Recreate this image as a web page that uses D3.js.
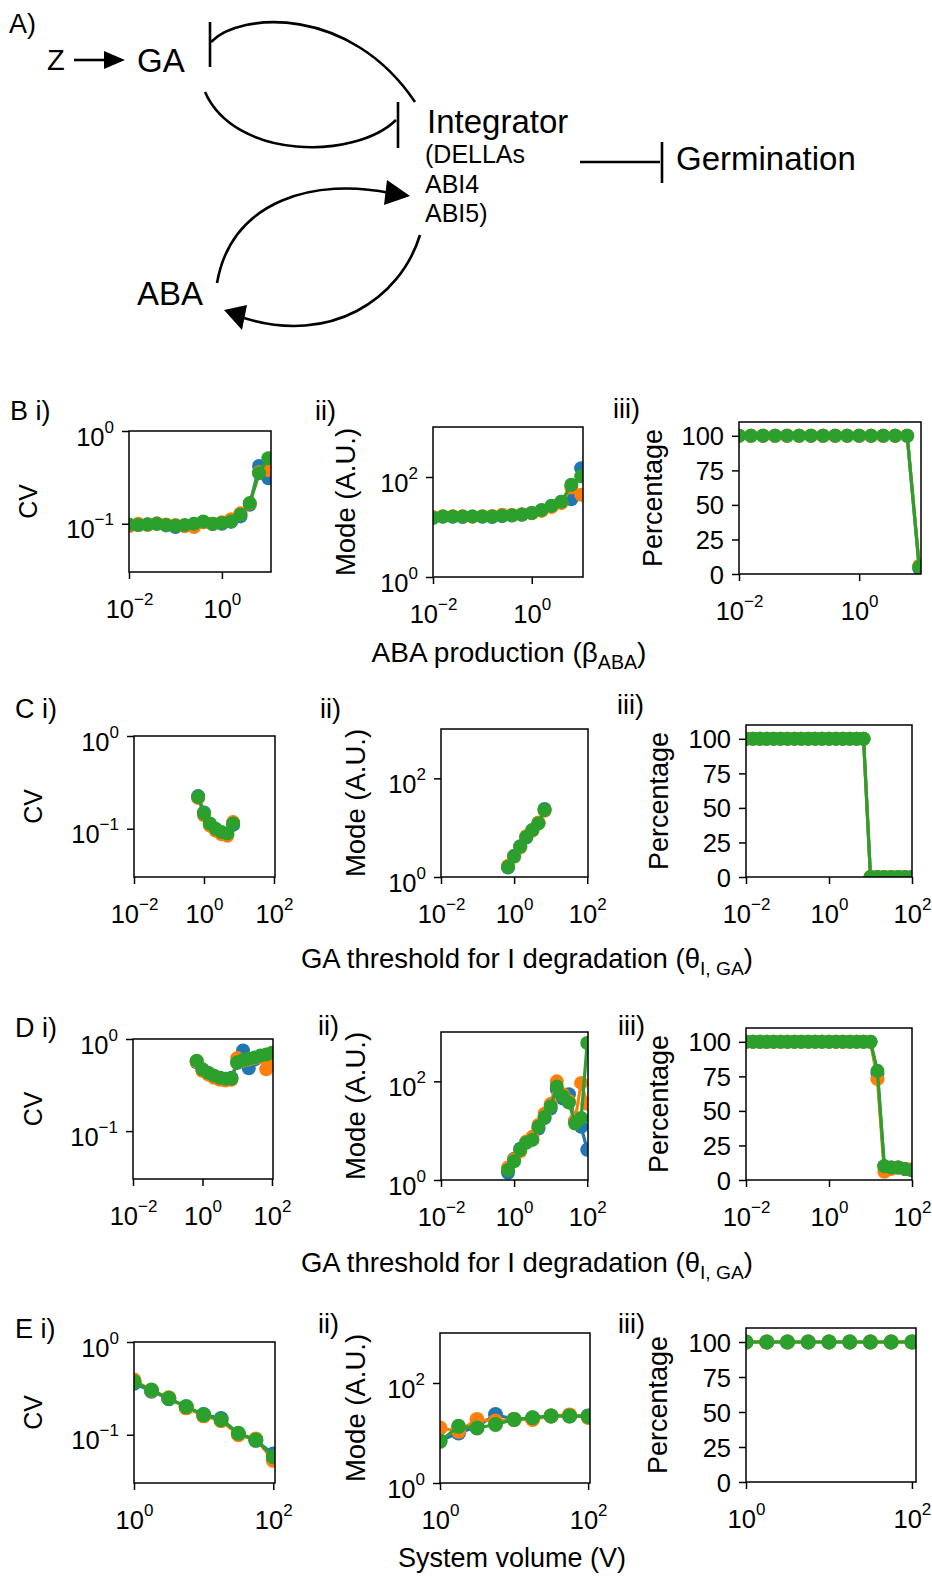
<!DOCTYPE html>
<html>
<head>
<meta charset="utf-8">
<script src="https://cdn.jsdelivr.net/npm/d3@7"></script>
<style>
  body { margin: 0; background: #fff; }
  svg { display: block; font-family: "Liberation Sans", Arial, sans-serif; }
</style>
</head>
<body>
<div id="fig"></div>
<script>
// x grids of the parameter sweeps
var xB = [0.01, 0.0158, 0.0251, 0.0398, 0.0631, 0.1, 0.158, 0.251, 0.398, 0.631, 1, 1.58, 2.51, 3.98, 6.31, 10];
var xCD = [0.01, 0.0147, 0.0215, 0.0316, 0.0464, 0.0681, 0.1, 0.147, 0.215, 0.316, 0.464, 0.681, 1,
           1.47, 2.15, 3.16, 4.64, 6.81, 10, 14.7, 21.5, 31.6, 46.4, 68.1, 100];
var xE = [1, 1.78, 3.16, 5.62, 10, 17.8, 31.6, 56.2, 100];

// B: ABA production
var bCvBlue   = [0.096, 0.097, 0.099, 0.1, 0.096, 0.092, 0.095, 0.099, 0.104, 0.099, 0.1, 0.105, 0.12, 0.16, 0.42, 0.31];
var bCvOrange = [0.094, 0.1, 0.097, 0.101, 0.098, 0.097, 0.094, 0.092, 0.104, 0.1, 0.104, 0.112, 0.13, 0.165, 0.36, 0.38];
var bCvGreen  = [0.098, 0.097, 0.098, 0.1, 0.097, 0.095, 0.097, 0.1, 0.106, 0.1, 0.102, 0.106, 0.125, 0.167, 0.35, 0.51];
var bModeBlue   = [15.5, 16, 16, 15.8, 16.3, 16, 15.8, 16.5, 17, 17.5, 19, 21.5, 26, 32, 36, 150];
var bModeOrange = [15.8, 16.5, 16.5, 16.5, 16, 16.5, 16.6, 17.5, 17.4, 18, 18.8, 21, 25, 30, 62, 44];
var bModeGreen  = [15.1, 16.3, 16.3, 16.3, 16.3, 16.3, 16.3, 16.8, 17.2, 17.8, 19.1, 22, 26.6, 32, 70, 103];
var bPctBlue   = [100, 100, 100, 100, 100, 100, 100, 100, 100, 100, 100, 100, 100, 100, 100, 4];
var bPctOrange = [100, 100, 100, 100, 100, 100, 100, 100, 100, 100, 100, 100, 100, 100, 100, 6];
var bPctGreen  = [100, 100, 100, 100, 100, 100, 100, 100, 100, 100, 100, 100, 100, 100, 100, 5];

// C: GA threshold (CV and mode only defined for xCD[11..17])
var cCvBlue   = [0.225, 0.15, 0.112, 0.098, 0.09, 0.088, 0.11];
var cCvOrange = [0.215, 0.14, 0.108, 0.095, 0.087, 0.084, 0.118];
var cCvGreen  = [0.22, 0.146, 0.114, 0.1, 0.092, 0.089, 0.114];
var cModeBlue   = [1.55, 2.7, 4.2, 6.3, 9, 12.5, 24];
var cModeOrange = [1.7, 2.6, 4.0, 6.7, 8.7, 12.8, 22];
var cModeGreen  = [1.6, 2.6, 4.1, 6.5, 8.9, 12.2, 22.7];
var cPctBlue   = [100, 100, 100, 100, 100, 100, 100, 100, 100, 100, 100, 100, 100, 100, 100, 100, 100, 100, 0, 0, 0, 0, 0, 0, 0];
var cPctOrange = [100, 100, 100, 100, 100, 100, 100, 100, 100, 100, 100, 100, 100, 100, 100, 100, 100, 100, 0, 0, 0, 0, 0, 0, 0];
var cPctGreen  = [100, 100, 100, 100, 100, 100, 100, 100, 100, 100, 100, 100, 100, 100, 100, 100, 100, 100, 0, 0, 0, 0, 0, 0, 0];

// D: GA threshold, second model (CV and mode for xCD[11..24])
var dCvBlue   = [0.56, 0.46, 0.42, 0.39, 0.38, 0.37, 0.38, 0.55, 0.75, 0.48, 0.6, 0.64, 0.66, 0.7];
var dCvOrange = [0.57, 0.45, 0.41, 0.38, 0.36, 0.355, 0.36, 0.62, 0.58, 0.6, 0.62, 0.64, 0.47, 0.6];
var dCvGreen  = [0.58, 0.47, 0.43, 0.4, 0.38, 0.37, 0.37, 0.56, 0.59, 0.61, 0.63, 0.66, 0.68, 0.71];
var dModeBlue   = [1.4, 2.7, 4.3, 5.9, 6.8, 11, 18, 28, 70, 45, 55, 16, 12, 4.1];
var dModeOrange = [1.8, 2.6, 3.8, 6, 7.5, 13, 22, 35, 100, 55, 40, 16, 93, 35];
var dModeGreen  = [1.6, 2.4, 4.1, 5.7, 6.5, 12, 19, 31, 79, 50, 37, 14, 18, 600];
var dPctBlue   = [100, 100, 100, 100, 100, 100, 100, 100, 100, 100, 100, 100, 100, 100, 100, 100, 100, 100, 100, 77, 10, 9, 9, 8, 7];
var dPctOrange = [100, 100, 100, 100, 100, 100, 100, 100, 100, 100, 100, 100, 100, 100, 100, 100, 100, 100, 100, 73, 6, 8, 9, 8, 8];
var dPctGreen  = [100, 100, 100, 100, 100, 100, 100, 100, 100, 100, 100, 100, 100, 100, 100, 100, 100, 100, 100, 79, 10, 9, 9, 8, 7];

// E: system volume
var eCvBlue   = [0.36, 0.295, 0.245, 0.2, 0.165, 0.15, 0.102, 0.087, 0.062];
var eCvOrange = [0.39, 0.3, 0.25, 0.195, 0.16, 0.142, 0.1, 0.09, 0.053];
var eCvGreen  = [0.372, 0.303, 0.247, 0.201, 0.164, 0.145, 0.104, 0.088, 0.058];
var eModeBlue   = [7, 10, 13.5, 23.5, 18.7, 20, 22, 22, 22];
var eModeOrange = [12.6, 10.8, 18.7, 17.3, 18.7, 18.7, 22, 23, 20.5];
var eModeGreen  = [6.8, 13.6, 12.6, 14.8, 18.7, 20.2, 21.9, 21.9, 21.5];
var ePctBlue   = [100, 100, 100, 100, 100, 100, 100, 100, 100];
var ePctOrange = [100, 100, 100, 100, 100, 100, 100, 100, 100];
var ePctGreen  = [100, 100, 100, 100, 100, 100, 100, 100, 100];

var colors = ["#1f77b4", "#ff7f0e", "#2ca02c"];

var svg = d3.select("#fig").append("svg")
  .attr("width", 932)
  .attr("height", 1578);
svg.append("rect").attr("width", 932).attr("height", 1578).attr("fill", "#fff");
var defs = svg.append("defs");

// ---------- panel A : network diagram ----------
var diag = svg.append("g").attr("fill", "none").attr("stroke", "#000").attr("stroke-width", 2.6);

function label(x, y, txt, size) {
  svg.append("text").attr("x", x).attr("y", y).attr("font-size", size).text(txt);
}
label(9, 33, "A)", 27);
label(47, 70, "Z", 29);
label(137, 72, "GA", 33);
label(427, 133, "Integrator", 33);
label(425, 163, "(DELLAs", 25);
label(425, 193, "ABI4", 25);
label(425, 222, "ABI5)", 25);
label(676, 170, "Germination", 33);
label(137, 305, "ABA", 33);

// Z -> GA
diag.append("line").attr("x1", 74).attr("y1", 60).attr("x2", 106).attr("y2", 60);
svg.append("path").attr("d", "M104,51 L125,60 L104,69 Z").attr("fill", "#000");
// Integrator -| GA
diag.append("path").attr("d", "M211,42 C240,12 350,5 415,102");
diag.append("line").attr("x1", 210).attr("y1", 22).attr("x2", 210).attr("y2", 67);
// GA -| Integrator
diag.append("path").attr("d", "M205,92 C235,160 355,160 396,120");
diag.append("line").attr("x1", 398).attr("y1", 102).attr("x2", 398).attr("y2", 148);
// Integrator -| Germination
diag.append("line").attr("x1", 580).attr("y1", 162).attr("x2", 660).attr("y2", 162);
diag.append("line").attr("x1", 662).attr("y1", 142).attr("x2", 662).attr("y2", 183);
// ABA -> Integrator
diag.append("path").attr("d", "M217,283 C232,198 318,178 390,193");
svg.append("path").attr("d", "M387,180 L410,196 L384,205 Z").attr("fill", "#000");
// Integrator -> ABA
diag.append("path").attr("d", "M420,235 C400,300 330,345 244,318");
svg.append("path").attr("d", "M224,310 L247,305 L242,330 Z").attr("fill", "#000");

// ---------- panels B-E ----------
var yKinds = {
  cv:   { log: true,  domain: [0.0302, 1], ticks: [0.1, 1],             title: "CV",          tsize: 25 },
  mode: { log: true,  domain: [1, 1000],   ticks: [1, 100],             title: "Mode (A.U.)", tsize: 27.5 },
  pct:  { log: false, domain: [0, 110],    ticks: [0, 25, 50, 75, 100], title: "Percentage",  tsize: 27 }
};

var panels = [
  { id: "bi",   box: [129, 431, 271, 572],  xd: [0.01, 11.4], xt: [0.01, 1], kind: "cv",   xs: xB, ys: [bCvBlue, bCvOrange, bCvGreen], labX: 37, tag: "B i)", tagPos: [10, 420] },
  { id: "bii",  box: [433, 427, 583, 577],  xd: [0.01, 10.9], xt: [0.01, 1], kind: "mode", xs: xB, ys: [bModeBlue, bModeOrange, bModeGreen], labX: 355, tag: "ii)", tagPos: [315, 420] },
  { id: "biii", box: [739, 422, 921, 574],  xd: [0.01, 10.7], xt: [0.01, 1], kind: "pct",  xs: xB, ys: [bPctBlue, bPctOrange, bPctGreen], labX: 662, tag: "iii)", tagPos: [613, 418] },

  { id: "ci",   box: [134, 736, 275, 877],  xd: [0.01, 107], xt: [0.01, 1, 100], kind: "cv",   xs: xCD.slice(11, 18), ys: [cCvBlue, cCvOrange, cCvGreen], labX: 42, tag: "C i)", tagPos: [15, 718] },
  { id: "cii",  box: [441, 729, 588, 877],  xd: [0.01, 105], xt: [0.01, 1, 100], kind: "mode", xs: xCD.slice(11, 18), ys: [cModeBlue, cModeOrange, cModeGreen], labX: 365, tag: "ii)", tagPos: [320, 718] },
  { id: "ciii", box: [746, 725, 912, 877],  xd: [0.01, 100], xt: [0.01, 1, 100], kind: "pct",  xs: xCD, ys: [cPctBlue, cPctOrange, cPctGreen], labX: 668, tag: "iii)", tagPos: [617, 714] },

  { id: "di",   box: [133, 1039, 273, 1179], xd: [0.01, 107], xt: [0.01, 1, 100], kind: "cv",   xs: xCD.slice(11), ys: [dCvBlue, dCvOrange, dCvGreen], labX: 42, tag: "D i)", tagPos: [15, 1037] },
  { id: "dii",  box: [441, 1032, 588, 1180], xd: [0.01, 105], xt: [0.01, 1, 100], kind: "mode", xs: xCD.slice(11), ys: [dModeBlue, dModeOrange, dModeGreen], labX: 365, tag: "ii)", tagPos: [318, 1035] },
  { id: "diii", box: [746, 1028, 912, 1180], xd: [0.01, 100], xt: [0.01, 1, 100], kind: "pct",  xs: xCD, ys: [dPctBlue, dPctOrange, dPctGreen], labX: 668, tag: "iii)", tagPos: [618, 1035] },

  { id: "ei",   box: [134, 1342, 275, 1483], xd: [1, 106], xt: [1, 100], kind: "cv",   xs: xE, ys: [eCvBlue, eCvOrange, eCvGreen], labX: 42, tag: "E i)", tagPos: [15, 1338], r: 7.5 },
  { id: "eii",  box: [440, 1333, 590, 1483], xd: [1, 106], xt: [1, 100], kind: "mode", xs: xE, ys: [eModeBlue, eModeOrange, eModeGreen], labX: 365, tag: "ii)", tagPos: [318, 1333], r: 7.5 },
  { id: "eiii", box: [746, 1328, 916, 1482], xd: [1, 112], xt: [1, 100], kind: "pct",  xs: xE, ys: [ePctBlue, ePctOrange, ePctGreen], labX: 667, tag: "iii)", tagPos: [618, 1333], r: 7.5 }
];

function powLabel(sel) {
  sel.each(function(d) {
    var e = Math.round(Math.log10(d));
    var t = d3.select(this).text("");
    t.append("tspan").text("10");
    t.append("tspan").attr("dy", -13).attr("font-size", 17).text(e < 0 ? "\u2212" + (-e) : e);
  });
}

function drawPanel(p) {
  var k = yKinds[p.kind];
  var x0 = p.box[0], y0 = p.box[1], x1 = p.box[2], y1 = p.box[3];
  var tf = p.tickFont || 25.5;
  var r = p.r || 7;

  var x = d3.scaleLog().domain(p.xd).range([x0, x1]);
  var y = (k.log ? d3.scaleLog() : d3.scaleLinear()).domain(k.domain).range([y1, y0]);

  defs.append("clipPath").attr("id", "clip-" + p.id)
    .append("rect").attr("x", x0).attr("y", y0).attr("width", x1 - x0).attr("height", y1 - y0);

  var plot = svg.append("g").attr("clip-path", "url(#clip-" + p.id + ")");
  var line = d3.line().x(d => x(d[0])).y(d => y(d[1]));

  p.ys.forEach(function(vals, i) {
    var pts = p.xs.map((v, j) => [v, vals[j]]);
    plot.append("path")
      .datum(pts)
      .attr("d", line)
      .attr("fill", "none")
      .attr("stroke", colors[i])
      .attr("stroke-width", 3.2);
    plot.selectAll(null)
      .data(pts)
      .enter()
      .append("circle")
      .attr("cx", d => x(d[0]))
      .attr("cy", d => y(d[1]))
      .attr("r", r)
      .attr("fill", colors[i]);
  });

  // axes
  var xAxis = svg.append("g")
    .attr("transform", `translate(0, ${y1})`)
    .call(d3.axisBottom(x).tickValues(p.xt).tickSize(7).tickSizeOuter(0));
  xAxis.select(".domain").remove();
  xAxis.selectAll(".tick line").attr("stroke-width", 1.5);
  xAxis.selectAll(".tick text")
    .attr("y", 46).attr("dy", null)
    .attr("font-size", tf).attr("font-family", null).attr("fill", "#000")
    .call(powLabel);

  var yAxis = svg.append("g")
    .attr("transform", `translate(${x0}, 0)`)
    .call(d3.axisLeft(y).tickValues(k.ticks).tickSize(7).tickSizeOuter(0));
  yAxis.select(".domain").remove();
  yAxis.selectAll(".tick line").attr("stroke-width", 1.5);
  var yt = yAxis.selectAll(".tick text")
    .attr("x", -15).attr("dy", null)
    .attr("font-size", tf).attr("font-family", null).attr("fill", "#000");
  if (k.log) {
    yt.attr("y", 14).call(powLabel);
  } else {
    yt.attr("y", 9);
  }

  // frame
  svg.append("rect")
    .attr("x", x0).attr("y", y0)
    .attr("width", x1 - x0).attr("height", y1 - y0)
    .attr("fill", "none").attr("stroke", "#000").attr("stroke-width", 1.5);

  // y title
  svg.append("text")
    .attr("transform", `translate(${p.labX}, ${(y0 + y1) / 2}) rotate(-90)`)
    .attr("text-anchor", "middle")
    .attr("font-size", k.tsize)
    .text(k.title);

  // panel tag
  svg.append("text")
    .attr("x", p.tagPos[0]).attr("y", p.tagPos[1])
    .attr("font-size", 27)
    .text(p.tag);
}

panels.forEach(drawPanel);

// x titles
function xTitle(cx, baseline, size, main, sub) {
  var t = svg.append("text")
    .attr("x", cx).attr("y", baseline)
    .attr("text-anchor", "middle")
    .attr("font-size", size);
  t.append("tspan").text(main);
  if (sub) {
    t.append("tspan").attr("dy", 7).attr("font-size", size * 0.7).text(sub);
    t.append("tspan").attr("dy", -7).text(")");
  }
}
xTitle(509, 662, 28, "ABA production (\u03B2", "ABA");
xTitle(527, 968, 27.5, "GA threshold for I degradation (\u03B8", "I, GA");
xTitle(527, 1272, 27.5, "GA threshold for I degradation (\u03B8", "I, GA");
xTitle(512, 1567, 27, "System volume (V)");
</script>
</body>
</html>
